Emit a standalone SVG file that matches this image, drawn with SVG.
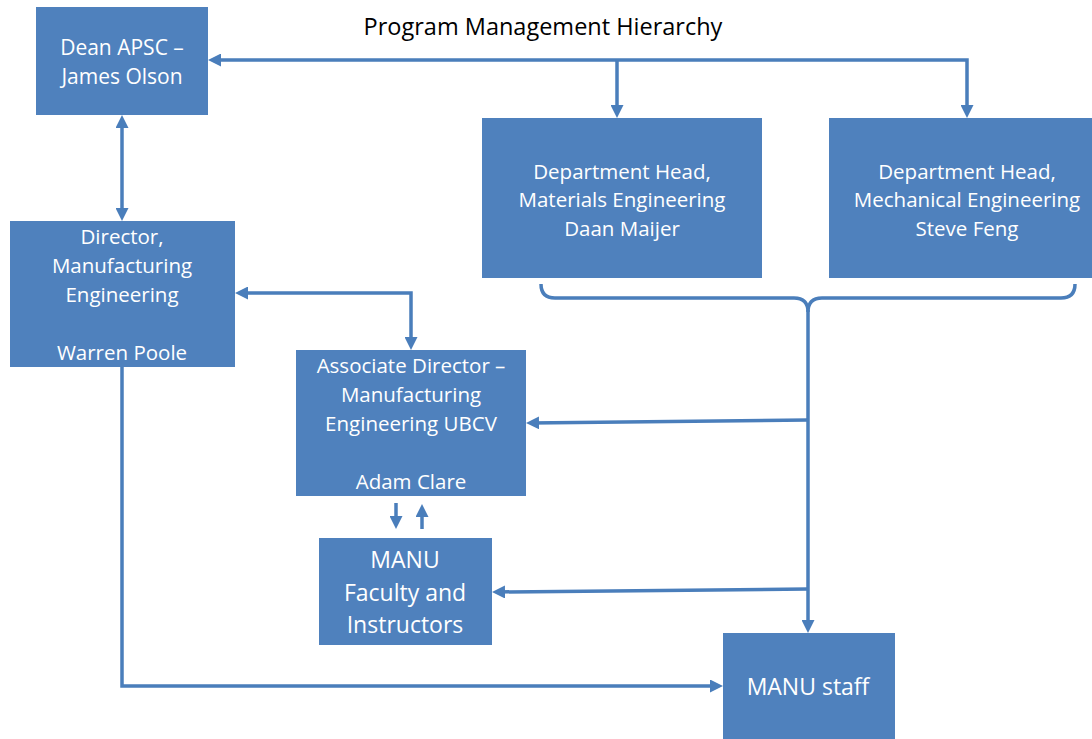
<svg xmlns="http://www.w3.org/2000/svg" width="1092" height="739" viewBox="0 0 1092 739">
  <style>
    .box { fill: #4F81BD; }
    .lbl { font-family: "Open Sans", "Noto Sans", "Liberation Sans", sans-serif; fill: #FFFFFF; text-anchor: middle; font-size: 20.5px; }
    .big { font-size: 23px; }
    .title { font-family: "Open Sans", "Noto Sans", "Liberation Sans", sans-serif; fill: #000000; text-anchor: middle; font-size: 23.5px; }
    .wire { fill: none; stroke: #4A7EBB; stroke-width: 3.5; stroke-linejoin: miter; }
  </style>
  <defs>
    <marker id="head" viewBox="0 0 13 13" refX="9" refY="6.5" markerWidth="13" markerHeight="13" markerUnits="userSpaceOnUse" orient="auto-start-reverse">
      <path d="M0,0 L13,6.5 L0,13 Z" fill="#4A7EBB"/>
    </marker>
  </defs>

  <rect width="1092" height="739" fill="#FFFFFF"/>

  <text class="title" x="543" y="35">Program Management Hierarchy</text>

  <g id="connectors">
    <!-- dean to both department heads -->
    <path class="wire" d="M212,60 L967,60 L967,114" marker-start="url(#head)" marker-end="url(#head)"/>
    <path class="wire" d="M617,60 L617,114" marker-end="url(#head)"/>
    <!-- dean and director -->
    <path class="wire" d="M122,119 L122,217" marker-start="url(#head)" marker-end="url(#head)"/>
    <!-- director and associate director -->
    <path class="wire" d="M239,293 L411,293 L411,346" marker-start="url(#head)" marker-end="url(#head)"/>
    <!-- director to staff -->
    <path class="wire" d="M122,367 L122,686 L719,686" marker-end="url(#head)"/>
    <!-- brace under department heads -->
    <path class="wire" d="M541,284 Q541,298 555,298 L794,298 Q808,298 808,312 Q808,298 822,298 L1061,298 Q1075,298 1075,284"/>
    <path class="wire" d="M808,310 L808,629" marker-end="url(#head)"/>
    <path class="wire" d="M808,420 L530,423" marker-end="url(#head)"/>
    <path class="wire" d="M808,589 L496,592" marker-end="url(#head)"/>
    <!-- associate director and faculty -->
    <path class="wire" d="M396,503 L396,525" marker-end="url(#head)"/>
    <path class="wire" d="M422,529 L422,508" marker-end="url(#head)"/>
  </g>

  <g id="dean">
    <rect class="box" x="36" y="7" width="172" height="108"/>
    <text class="lbl" x="122" y="55" style="font-size:21px">Dean APSC –</text>
    <text class="lbl" x="122" y="84" style="font-size:21px">James Olson</text>
  </g>

  <g id="materials">
    <rect class="box" x="482" y="118" width="280" height="160"/>
    <text class="lbl" x="622" y="179">Department Head,</text>
    <text class="lbl" x="622" y="207">Materials Engineering</text>
    <text class="lbl" x="622" y="236">Daan Maijer</text>
  </g>

  <g id="mechanical">
    <rect class="box" x="829" y="118" width="277" height="160"/>
    <text class="lbl" x="967" y="179">Department Head,</text>
    <text class="lbl" x="967" y="207">Mechanical Engineering</text>
    <text class="lbl" x="967" y="236">Steve Feng</text>
  </g>

  <g id="director">
    <rect class="box" x="10" y="221" width="225" height="146"/>
    <text class="lbl" x="122" y="244">Director,</text>
    <text class="lbl" x="122" y="273">Manufacturing</text>
    <text class="lbl" x="122" y="302">Engineering</text>
    <text class="lbl" x="122" y="360">Warren Poole</text>
  </g>

  <g id="associate">
    <rect class="box" x="296" y="350" width="230" height="146"/>
    <text class="lbl" x="411" y="373">Associate Director –</text>
    <text class="lbl" x="411" y="402">Manufacturing</text>
    <text class="lbl" x="411" y="431">Engineering UBCV</text>
    <text class="lbl" x="411" y="489">Adam Clare</text>
  </g>

  <g id="faculty">
    <rect class="box" x="319" y="538" width="173" height="107"/>
    <text class="lbl big" x="405" y="568">MANU</text>
    <text class="lbl big" x="405" y="601">Faculty and</text>
    <text class="lbl big" x="405" y="633">Instructors</text>
  </g>

  <g id="staff">
    <rect class="box" x="723" y="633" width="172" height="106"/>
    <text class="lbl big" x="808" y="695">MANU staff</text>
  </g>
</svg>
